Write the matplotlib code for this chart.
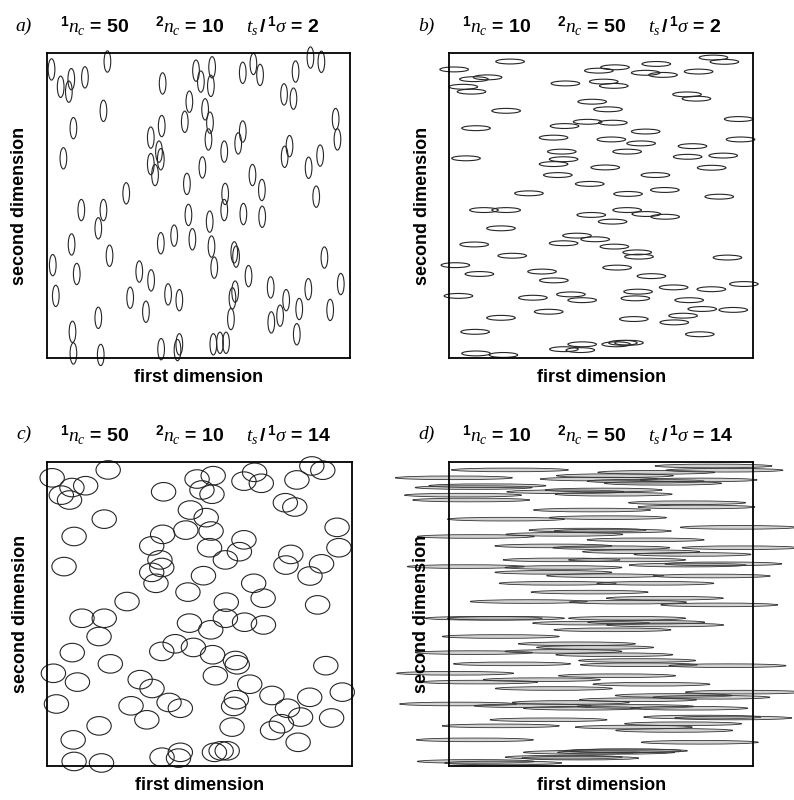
import matplotlib
matplotlib.use("Agg")
import matplotlib.pyplot as plt
from matplotlib.patches import Ellipse

plt.rcParams['mathtext.fontset'] = 'custom'
plt.rcParams['mathtext.rm'] = 'Liberation Sans:bold'
plt.rcParams['mathtext.bf'] = 'Liberation Sans:bold'
plt.rcParams['mathtext.it'] = 'Liberation Serif:italic'

# peak centres, % of the separation space (same set in all four panels)
peak_x = [1.6, 4.6, 8.1, 7.3, 12.6, 20.0, 18.7, 8.8, 5.5, 38.2, 37.9, 34.3, 37.0, 37.6, 34.3,
          35.7, 26.2, 49.2, 50.8, 54.5, 54.1, 47.0, 45.5, 52.2, 53.8, 53.3, 46.2, 51.3, 58.5,
          58.8, 64.6, 68.1, 70.3, 64.6, 63.1, 67.8, 70.9, 82.0, 78.2, 81.3, 86.9, 90.5, 95.2,
          95.8, 80.0, 78.4, 86.3, 90.1, 88.8,
          11.4, 18.7, 17.0, 8.2, 2.0, 9.9, 3.0, 20.7, 17.0, 8.5, 8.8, 17.8, 46.7, 58.5, 64.8,
          71.0, 53.7, 37.6, 42.0, 48.0, 54.3, 55.2, 61.8, 62.4, 66.5, 30.5, 34.4, 27.5, 32.7,
          40.0, 43.7, 62.1, 61.2, 60.7, 37.7, 43.7, 43.1, 54.9, 57.1, 59.1, 73.8, 78.9, 76.9,
          74.0, 83.2, 86.2, 82.4, 91.5, 93.4, 96.9]
peak_y = [94.7, 89.0, 91.5, 87.4, 92.1, 97.3, 81.1, 75.4, 65.5, 90.1, 76.1, 72.3, 67.7, 65.2, 63.6,
          60.0, 54.0, 94.3, 90.7, 95.4, 89.3, 84.1, 77.5, 81.6, 77.2, 71.7, 57.1, 62.5, 67.7,
          53.8, 93.6, 96.5, 92.9, 74.3, 70.4, 60.0, 55.1, 94.0, 86.5, 85.1, 98.6, 97.2, 78.4,
          71.7, 69.5, 66.0, 62.4, 66.4, 52.9,
          48.5, 48.5, 42.5, 37.2, 30.4, 27.5, 20.3, 33.5, 13.1, 8.5, 1.4, 0.9, 46.9, 48.5, 47.2,
          46.3, 44.7, 37.6, 40.1, 38.9, 36.5, 29.6, 34.6, 33.2, 26.8, 28.3, 25.4, 19.7, 15.1,
          20.8, 18.9, 21.7, 19.5, 12.7, 2.8, 4.4, 2.5, 4.4, 4.9, 4.9, 23.1, 18.9, 13.8,
          11.6, 16.0, 22.5, 7.7, 32.9, 15.7, 24.2]

panel_tags = ['a)', 'b)', 'c)', 'd)']
nc1 = [50, 10, 50, 10]
nc2 = [10, 50, 10, 50]
ts_ratio = [2, 2, 14, 14]
# peak width / height, % of the axis
peak_w = [2.2, 9.4, 8.0, 38.5]
peak_h = [7.0, 1.6, 6.1, 1.2]

W, H = 794, 800
fig = plt.figure(figsize=(W / 100, H / 100), dpi=100)

# box corners in pixels: left, top, width, height
boxes = [(46.7, 53.3, 303.5, 304.4), (449.3, 53.3, 304.0, 304.4),
         (47.3, 461.7, 304.4, 304.0), (449.0, 461.7, 304.4, 304.0)]

tkw = dict(fontsize=14, family='Liberation Sans', fontweight='bold', va='center')

for i, (bl, bt, bw, bh) in enumerate(boxes):
    ax = fig.add_axes([bl / W, 1 - (bt + bh) / H, bw / W, bh / H])
    ax.set_xlim(0, 100)
    ax.set_ylim(0, 100)
    ax.set_xticks([])
    ax.set_yticks([])
    for s in ax.spines.values():
        s.set_linewidth(1.3)
        s.set_zorder(5)
    for x, y in zip(peak_x, peak_y):
        if i == 3:
            e = Ellipse((x, y), peak_w[i], peak_h[i], facecolor=(0.5, 0.5, 0.5, 0.35),
                        edgecolor='0.2', lw=0.6, clip_on=False)
        else:
            e = Ellipse((x, y), peak_w[i], peak_h[i], facecolor='none',
                        edgecolor='0.15', lw=0.8, clip_on=False)
        ax.add_patch(e)

    ty = 1 - (bt - 27) / H
    fig.text((bl - 31) / W, ty, panel_tags[i], fontsize=14, family='Liberation Serif',
             style='italic', va='center')
    fig.text((bl + 13) / W, ty, r'$^{1}n_c$ = %d' % nc1[i], **tkw)
    fig.text((bl + 108) / W, ty, r'$^{2}n_c$ = %d' % nc2[i], **tkw)
    fig.text((bl + 199) / W, ty, r'$t_s\,\mathit{/}\,^{1}\sigma$ = %d' % ts_ratio[i], **tkw)
    fig.text((bl + bw / 2) / W, 1 - (bt + bh + 20) / H, 'first dimension', fontsize=13,
             fontweight='bold', family='Liberation Sans', ha='center', va='center')
    fig.text((bl - 27) / W, 1 - (bt + bh / 2) / H, 'second dimension', fontsize=13,
             fontweight='bold', family='Liberation Sans', ha='center', va='center',
             rotation=90)

fig.savefig('out.png', dpi=100)
